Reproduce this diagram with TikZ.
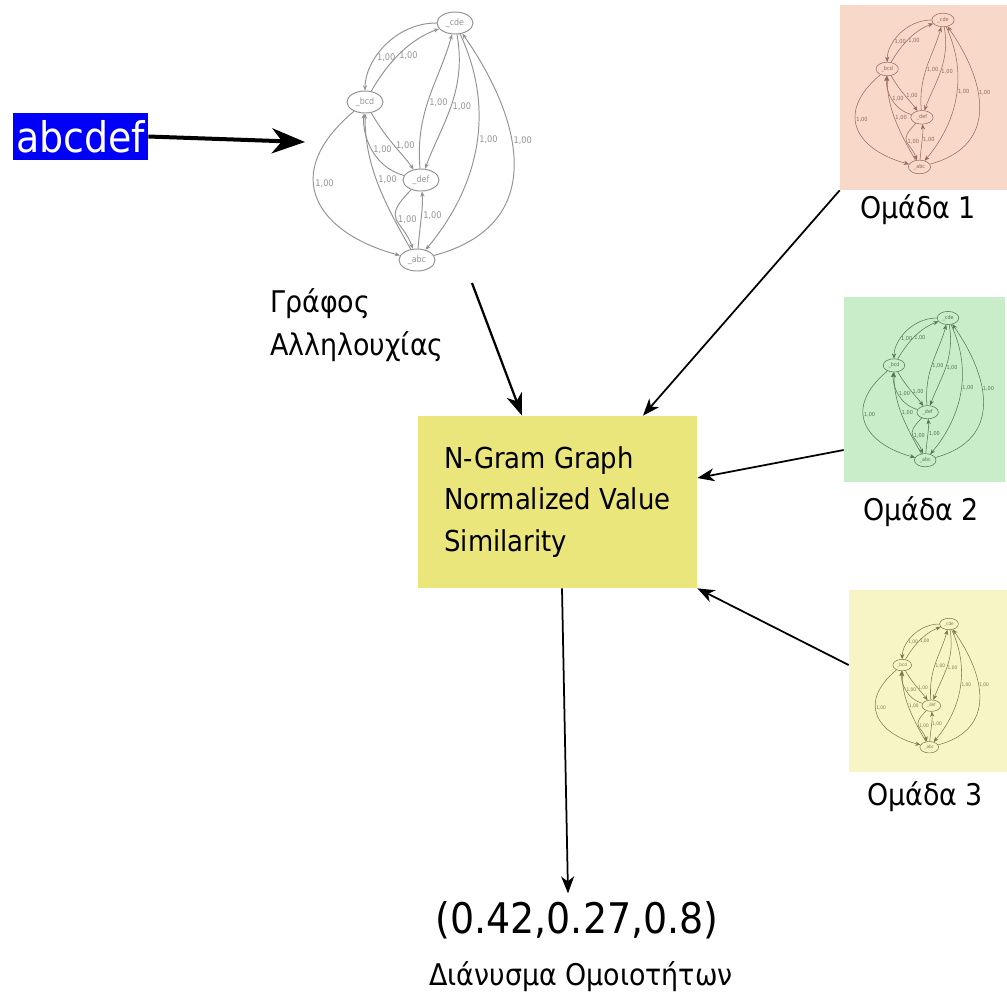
\documentclass[tikz,border=0pt]{standalone}
\usepackage{fontspec}
\setmainfont{DejaVu Sans Condensed}
\usepackage{tikz}
\usetikzlibrary{shapes.geometric, arrows.meta, positioning}

\definecolor{inblue}{RGB}{0,0,250}
\definecolor{nggyellow}{RGB}{235,230,124}
\definecolor{grpone}{RGB}{248,216,200}
\definecolor{grptwo}{RGB}{201,236,201}
\definecolor{grpthree}{RGB}{247,245,198}
\definecolor{grponeline}{RGB}{150,105,90}
\definecolor{grptwoline}{RGB}{80,120,80}
\definecolor{grpthreeline}{RGB}{125,120,75}

\tikzset{
  gnode/.style={
    ellipse, draw, minimum width=7.2mm, minimum height=4.4mm,
    inner sep=0pt, font=\fontsize{5}{6}\selectfont
  },
  gedge/.style={-{Stealth[length=3pt,width=2.4pt]}},
  glabel/.style={font=\fontsize{5.2}{6}\selectfont, inner sep=0.8pt},
  inbox/.style={
    rectangle, fill=inblue, text=white, inner sep=0.5mm,
    minimum width=27mm, minimum height=9.4mm,
    font=\fontsize{24}{28}\selectfont
  },
  nggbox/.style={
    rectangle, fill=nggyellow, minimum width=55.8mm, minimum height=34.4mm,
    align=left, font=\fontsize{16.4}{23.8}\selectfont
  },
  grpbox/.style={rectangle, inner sep=0pt},
  capt/.style={font=\fontsize{17}{24.4}\selectfont, inner sep=0pt},
  bigarrow/.style={-{Stealth[length=6.6mm, width=5mm, inset=2mm]}, line width=0.8mm},
  flowarrow/.style={-{Stealth[length=4.4mm, width=3.2mm, inset=1.3mm]}, line width=0.45mm},
  grparrow/.style={-{Stealth[length=3.4mm, width=2.6mm, inset=1mm]}, line width=0.35mm},
}

% n-gram graph of "abcdef": #1 name prefix, #2 top node position, #3 options
\newcommand{\ngramgraph}[3]{%
  \begin{scope}[shift={#2}, transform shape, name prefix=#1-, #3]
    \node[gnode] (cde) at (0,0) {\_cde};
    \node[gnode] (bcd) at (-90,-79) {\_bcd};
    \node[gnode] (def) at (-34,-157) {\_def};
    \node[gnode] (abc) at (-38,-237) {\_abc};
    \draw[gedge] (cde) to[out=180,in=90] node[glabel,right,pos=0.65] {1,00} (bcd);
    \draw[gedge] (bcd) to[out=60,in=200] node[glabel,right,pos=0.4] {1,00} (cde);
    \draw[gedge] (def) to[out=95,in=255] node[glabel,right,pos=0.45] {1,00} (cde);
    \draw[gedge] (cde) to[out=-80,in=70] node[glabel,right] {1,00} (def);
    \draw[gedge] (bcd) to[out=-60,in=125] node[glabel,right] {1,00} (def);
    \draw[gedge] (def) to[out=165,in=-95] node[glabel,right] {1,00} (bcd);
    \draw[gedge] (bcd) to[out=220,in=165,looseness=1.6] node[glabel,right,pos=0.4] {1,00} (abc);
    \draw[gedge] (abc) to[out=120,in=-90] node[glabel,right] {1,00} (bcd);
    \draw[gedge] (def) to[out=225,in=110,looseness=1.6] node[glabel,right] {1,00} (abc);
    \draw[gedge] (abc) to[out=85,in=-85] node[glabel,right] {1,00} (def);
    \draw[gedge] (cde) to[out=-65,in=50] node[glabel,right,pos=0.45] {1,00} (abc);
    \draw[gedge] (abc) to[out=15,in=-55,looseness=1.3] node[glabel,right,pos=0.6] {1,00} (cde);
  \end{scope}}

\begin{document}
\begin{tikzpicture}[x=0.2mm, y=0.2mm]
  \useasboundingbox (0,0) rectangle (1007,-995);

  % input string and its sequence graph
  \node[inbox] (input) at (80.5,-136.5) {abcdef};
  \ngramgraph{g}{(455,-23)}{color=gray!85, line width=0.55pt}
  \coordinate (gin) at (305,-142);
  \coordinate (gout) at (472,-283);
  \node[capt, anchor=north west, align=left] (glab) at (270,-288)
    {Γράφος\\Αλληλουχίας};

  % similarity operator
  \node[nggbox] (ngg) at (557.5,-502)
    {N-Gram Graph\\Normalized Value\\Similarity};

  % groups
  \node[grpbox, fill=grpone, minimum width=33.4mm, minimum height=37mm]
    (p1) at (923.5,-97.5) {};
  \ngramgraph{a}{(943,-20)}{scale=0.62, color=grponeline, line width=0.3pt}
  \node[capt] (p1lab) at (918,-210) {Ομάδα 1};

  \node[grpbox, fill=grptwo, minimum width=32.2mm, minimum height=37mm]
    (p2) at (924.5,-389.5) {};
  \ngramgraph{b}{(948,-318)}{scale=0.6, color=grptwoline, line width=0.3pt}
  \node[capt] (p2lab) at (921,-512) {Ομάδα 2};

  \node[grpbox, fill=grpthree, minimum width=31.6mm, minimum height=36.4mm]
    (p3) at (928,-681) {};
  \ngramgraph{c}{(949,-624)}{scale=0.52, color=grpthreeline, line width=0.3pt}
  \node[capt] (p3lab) at (925,-797) {Ομάδα 3};

  % result
  \node[font=\fontsize{24}{28}\selectfont, inner sep=0pt] (vec) at (577,-920)
    {(0.42,0.27,0.8)};
  \node[capt] (veclab) at (581,-977) {Διάνυσμα Ομοιοτήτων};

  % arrows
  \draw[bigarrow] (input.east) -- (gin);
  \draw[flowarrow] (gout) -- ([xshift=-7.1mm]ngg.north);
  \draw[grparrow] (p1.south west) -- ([xshift=17.1mm]ngg.north);
  \draw[grparrow] ([yshift=-12.1mm]p2.west) -- ([yshift=4.8mm]ngg.east);
  \draw[grparrow] ([yshift=3.2mm]p3.west) -- (ngg.south east);
  \draw[grparrow] ([xshift=0.9mm]ngg.south) -- ([xshift=-1.8mm,yshift=1.5mm]vec.north);
\end{tikzpicture}
\end{document}
